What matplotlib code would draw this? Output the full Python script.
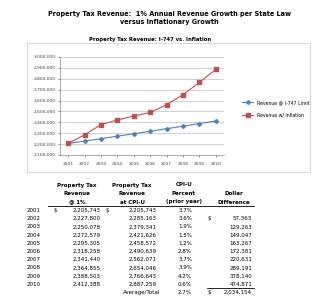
import matplotlib
matplotlib.use("Agg")
import matplotlib.pyplot as plt
from matplotlib.patches import Rectangle
from matplotlib.ticker import FuncFormatter

years = [2001, 2002, 2003, 2004, 2005, 2006, 2007, 2008, 2009, 2010]
rev_limit = [2205743, 2227800, 2250078, 2272579, 2295305, 2318258, 2341440, 2364855, 2388503, 2412388]
rev_infl = [2205743, 2285163, 2379341, 2421626, 2458572, 2490639, 2562071, 2654046, 2766643, 2887259]
cpi_pct = [3.7, 3.6, 1.9, 1.5, 1.2, 2.8, 3.7, 3.9, 4.2, 0.6]
legend_labels = ["Revenue @ I-747 Limit", "Revenue w/ Inflation"]
y_ticks = [2100000, 2200000, 2300000, 2400000, 2500000, 2600000, 2700000, 2800000, 2900000, 3000000]

W, H = 314, 297
fig = plt.figure(figsize=(W / 100, H / 100), dpi=100)
fig.patch.set_facecolor("white")

def fx(x):
    return x / W

def fy(y):
    return 1 - y / H

def txt(x, y, s, **kw):
    kw.setdefault("fontsize", 4)
    kw.setdefault("va", "center")
    fig.text(fx(x), fy(y), s, **kw)

# main title
txt(169, 14, "Property Tax Revenue:  1% Annual Revenue Growth per State Law", ha="center", fontsize=4.7, fontweight="bold")
txt(169, 22, "versus Inflationary Growth", ha="center", fontsize=4.7, fontweight="bold")

# chart border
fig.patches.append(Rectangle((fx(27), fy(172)), fx(310) - fx(27), fy(43) - fy(172),
                             transform=fig.transFigure, fill=False, edgecolor="#d0d0d0", linewidth=0.6))
txt(150, 39, "Property Tax Revenue: I-747 vs. Inflation", ha="center", fontsize=3.8, fontweight="bold")

ax = fig.add_axes([fx(60), fy(155), fx(224) - fx(60), fy(57) - fy(155)])
x = list(range(len(years)))
ax.plot(x, rev_limit, color="#4F81BD", marker="D", markersize=2.0, linewidth=0.8, label=legend_labels[0])
ax.plot(x, rev_infl, color="#C0504D", marker="s", markersize=2.4, linewidth=0.8, label=legend_labels[1])
ax.set_xlim(-0.5, len(years) - 0.5)
ax.set_ylim(y_ticks[0], y_ticks[-1])
ax.set_yticks(y_ticks)
ax.yaxis.set_major_formatter(FuncFormatter(lambda v, p: f"{int(v):,}"))
ax.set_xticks(x)
ax.set_xticklabels([str(y) for y in years])
ax.tick_params(labelsize=3.2, length=1.5, width=0.4, colors="#404040", pad=1.5)
ax.tick_params(axis="x", pad=3.5)
ax.grid(axis="y", color="#bfbfbf", linewidth=0.5)
ax.set_axisbelow(True)
for s in ["top", "right"]:
    ax.spines[s].set_visible(False)
for s in ["left", "bottom"]:
    ax.spines[s].set_color("#8c8c8c")
    ax.spines[s].set_linewidth(0.5)
ax.legend(loc="center left", bbox_to_anchor=(fx(240), fy(108.5)), bbox_transform=fig.transFigure,
          frameon=False, fontsize=3.3, handlelength=2.5, labelspacing=1.6, borderaxespad=0)

# table
hdr_y = [185, 193.5, 202]
txt(77, hdr_y[0], "Property Tax", ha="center", fontweight="bold")
txt(77, hdr_y[1], "Revenue", ha="center", fontweight="bold")
txt(77, hdr_y[2], "@ 1%", ha="center", fontweight="bold")
txt(132, hdr_y[0], "Property Tax", ha="center", fontweight="bold")
txt(132, hdr_y[1], "Revenue", ha="center", fontweight="bold")
txt(132, hdr_y[2], "at CPI-U", ha="center", fontweight="bold")
txt(184, hdr_y[0], "CPI-U", ha="center", fontweight="bold")
txt(184, hdr_y[1], "Percent", ha="center", fontweight="bold")
txt(184, hdr_y[2], "(prior year)", ha="center", fontweight="bold")
txt(234, hdr_y[1], "Dollar", ha="center", fontweight="bold")
txt(234, hdr_y[2], "Difference", ha="center", fontweight="bold")
fig.add_artist(plt.Line2D([fx(48), fx(254)], [fy(205.5), fy(205.5)], color="black", linewidth=0.6))

row0, step = 210.5, 8.2
for i, yr in enumerate(years):
    ry = row0 + i * step
    txt(27, ry, str(yr), ha="left")
    if i == 0:
        txt(54, ry, "$", ha="left")
        txt(106, ry, "$", ha="left")
    txt(101, ry, f"{rev_limit[i]:,}", ha="right")
    txt(157, ry, f"{rev_infl[i]:,}", ha="right")
    txt(192, ry, f"{cpi_pct[i]:.1f}%", ha="right")
    diff = rev_infl[i] - rev_limit[i]
    if i == 1:
        txt(208, ry, "$", ha="left")
    if i > 0:
        txt(252, ry, f"{diff:,}", ha="right")

total = sum(rv - rl for rv, rl in zip(rev_infl, rev_limit))
avg = sum(cpi_pct) / len(cpi_pct)
fy_tot = row0 + len(years) * step
fig.add_artist(plt.Line2D([fx(207), fx(254)], [fy(fy_tot - 4.2), fy(fy_tot - 4.2)], color="black", linewidth=0.6))
txt(160, fy_tot, "Average/Total", ha="right")
txt(192, fy_tot, f"{avg:.1f}%", ha="right")
txt(208, fy_tot, "$", ha="left")
txt(252, fy_tot, f"{total:,}", ha="right")

fig.savefig("out.png", dpi=100, facecolor="white")
